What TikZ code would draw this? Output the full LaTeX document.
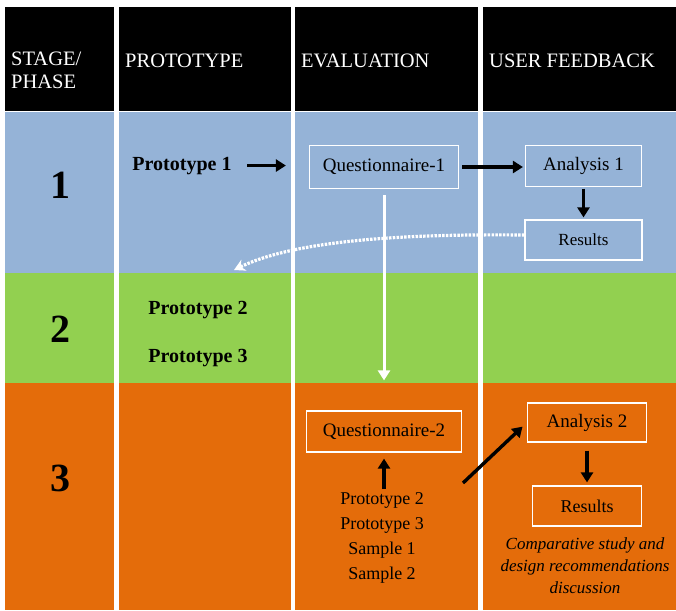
\documentclass[tikz,border=0pt]{standalone}
\usepackage{fontspec}
\setmainfont{Liberation Serif}
\usetikzlibrary{arrows.meta}

\definecolor{phaseblue}{HTML}{95B3D7}
\definecolor{phasegreen}{HTML}{92D050}
\definecolor{phaseorange}{HTML}{E46C0A}

\begin{document}
\begin{tikzpicture}[
    x=1pt, y=-1pt,
    hdr/.style={
        anchor=base west,
        text=white,
        inner sep=0pt,
        font=\fontsize{20.5}{22.5}\selectfont
    },
    phasenum/.style={font=\fontsize{40}{40}\selectfont\bfseries},
    protolbl/.style={anchor=base, font=\fontsize{20}{22}\selectfont\bfseries},
    box/.style={
        rectangle,
        draw=white,
        line width=1.2pt,
        inner sep=2pt,
        font=\fontsize{19}{22}\selectfont
    },
    arrow/.style={-{Triangle[length=10pt, width=12pt]}, line width=3.4pt},
    whitearrow/.style={arrow, white, line width=3pt},
    dotarrow/.style={-{Stealth[length=11pt, width=12pt]}, white, line width=3.2pt,
        dash pattern=on 2.5pt off 1.3pt}
]

\useasboundingbox[fill=white] (0,0) rectangle (676,610);

% rows and column gaps
\fill[black] (5,7) rectangle (676,110.5);
\fill[phaseblue] (5,112) rectangle (676,273);
\fill[phasegreen] (5,273) rectangle (676,383);
\fill[phaseorange] (5,383) rectangle (676,610);
\foreach \x in {116.7,293,480.5}
    \draw[white, line width=4.6pt] (\x,0) -- (\x,610);

\node[hdr, align=left, anchor=north west] (stagehdr) at (11,52) {STAGE/\\PHASE};
\node[hdr] (protohdr) at (125,67) {PROTOTYPE};
\node[hdr] (evalhdr) at (301,67) {EVALUATION};
\node[hdr] (feedbackhdr) at (489,67) {USER FEEDBACK};

\node[phasenum] (one) at (60,185) {1};
\node[phasenum] (two) at (60,329) {2};
\node[phasenum] (three) at (60,478) {3};

% stage 1
\node[protolbl] (proto1) at (182,170) {Prototype 1};
\node[box, minimum width=149pt, minimum height=43pt] (quest1) at (384,167) {Questionnaire-1};
\node[box, minimum width=116pt, minimum height=41pt] (ana1) at (583.5,166) {Analysis 1};
\node[box, minimum width=117pt, minimum height=40pt, font=\fontsize{17}{20}\selectfont] (res1) at (583.5,240) {Results};

\draw[arrow, shorten <=12pt, shorten >=23pt] (proto1.east) -- (proto1.east -| quest1.west);
\draw[arrow, shorten <=3pt, shorten >=2pt] (quest1.east) -- (quest1.east -| ana1.west);
\draw[arrow, line width=2.8pt, shorten <=1.5pt, shorten >=2pt] (ana1.south) -- (res1.north);

% stage 2
\node[protolbl] (proto2) at (198,314) {Prototype 2};
\node[protolbl] (proto3) at (198,362) {Prototype 3};

% stage 3
\node[box, minimum width=155pt, minimum height=41pt] (quest2) at (384,431.5) {Questionnaire-2};
\node[box, minimum width=119pt, minimum height=39pt] (ana2) at (587,422.5) {Analysis 2};
\node[box, minimum width=109pt, minimum height=40pt, font=\fontsize{18}{20}\selectfont] (res2) at (587,506) {Results};
\node[align=center, font=\fontsize{18}{25}\selectfont] (samples) at (382,538)
    {Prototype 2\\Prototype 3\\Sample 1\\Sample 2};
\node[align=center, font=\fontsize{17}{22}\selectfont\itshape] (study) at (585,566)
    {Comparative study and\\design recommendations\\discussion};

\coordinate (diagstart) at (463,483);
\coordinate (backtip) at (234,270);

\draw[arrow, shorten >=6pt] (quest2.south |- samples.north) -- (quest2.south);
\draw[arrow, shorten <=8pt, shorten >=3pt] (ana2.south) -- (res2.north);
\draw[arrow, shorten >=6pt] (diagstart) -- (ana2.west);

% links between stages
\draw[whitearrow, shorten <=6pt, shorten >=30pt] (quest1.south) -- (quest2.north);
\draw[dotarrow] ([yshift=5pt]res1.west) .. controls (420,234) and (300,238) .. (backtip);

\end{tikzpicture}
\end{document}
